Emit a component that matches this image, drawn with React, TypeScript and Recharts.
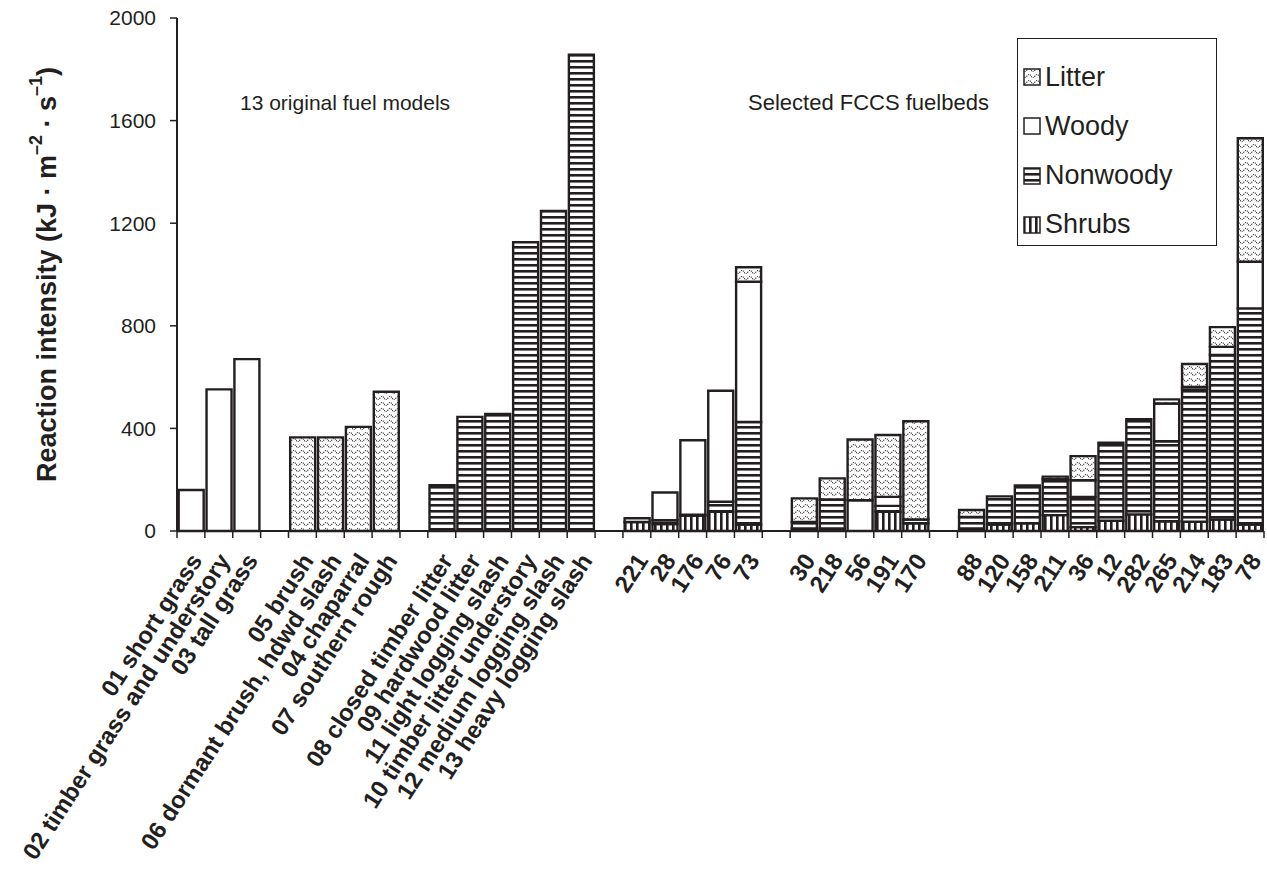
import React from 'react';
import { BarChart, Bar, XAxis, YAxis, Label } from 'recharts';

document.body.style.margin = '0';

const INK = '#231f20';
const FONT = '"Liberation Sans", Arial, Helvetica, sans-serif';

// category order along the x axis ('' = empty spacer between groups)
const categories = [
  '01 short grass', '02 timber grass and understory', '03 tall grass', '',
  '05 brush', '06 dormant brush, hdwd slash', '04 chaparral', '07 southern rough', '',
  '08 closed timber litter', '09 hardwood litter', '11 light logging slash',
  '10 timber litter understory', '12 medium logging slash', '13 heavy logging slash', '',
  '221', '28', '176', '76', '73', '',
  '30', '218', '56', '191', '170', '',
  '88', '120', '158', '211', '36', '12', '282', '265', '214', '183', '78',
];

// reaction intensity by fuel component (kJ m-2 s-1)
const shrubs = [
  0, 0, 0, 0,
  0, 0, 0, 0, 0,
  0, 0, 0, 0, 0, 0, 0,
  35, 27, 60, 75, 25, 0,
  10, 10, 0, 75, 30, 0,
  10, 25, 30, 62, 15, 40, 65, 38, 36, 45, 25,
];
const nonwoody = [
  0, 0, 0, 0,
  0, 0, 0, 0, 0,
  179, 445, 456, 1126, 1248, 1857, 0,
  15, 15, 4, 39, 400, 0,
  25, 113, 0, 23, 15, 0,
  45, 110, 148, 140, 118, 304, 371, 312, 516, 641, 843,
];
const woody = [
  160, 552, 670, 0,
  0, 0, 0, 0, 0,
  0, 0, 0, 0, 0, 0, 0,
  0, 108, 290, 433, 547, 0,
  0, 0, 120, 35, 0, 0,
  0, 0, 0, 0, 65, 0, 0, 147, 10, 32, 182,
];
const litter = [
  0, 0, 0, 0,
  365, 365, 406, 543, 0,
  0, 0, 0, 0, 0, 0, 0,
  0, 0, 0, 0, 56, 0,
  92, 82, 237, 241, 383, 0,
  27, 0, 0, 10, 94, 0, 0, 16, 89, 77, 481,
];

const yTicks = [0, 400, 800, 1200, 1600, 2000];

const legendItems = [
  { label: 'Litter', fill: 'url(#pat-litter)' },
  { label: 'Woody', fill: '#ffffff' },
  { label: 'Nonwoody', fill: 'url(#pat-nonwoody)' },
  { label: 'Shrubs', fill: 'url(#pat-shrubs)' },
];

const data = categories.map((name, i) => ({
  id: `c${i}`,
  name,
  shrubs: shrubs[i],
  nonwoody: nonwoody[i],
  woody: woody[i],
  litter: litter[i],
}));

const PatternDefs = () => (
  <svg width={0} height={0} style={{ position: 'absolute' }}>
    <defs>
      <pattern id="pat-nonwoody" width={6} height={6} patternUnits="userSpaceOnUse">
        <rect width={6} height={6} fill="#ffffff" />
        <rect y={0} width={6} height={2.6} fill={INK} />
      </pattern>
      <pattern id="pat-shrubs" width={6} height={6} patternUnits="userSpaceOnUse">
        <rect width={6} height={6} fill="#ffffff" />
        <rect x={0} width={2.6} height={6} fill={INK} />
      </pattern>
      <pattern id="pat-litter" width={8} height={6} patternUnits="userSpaceOnUse">
        <rect width={8} height={6} fill="#ffffff" />
        <path d="M0 2 Q2 5 4 2 T8 2" fill="none" stroke="#444" strokeWidth={1.1} strokeDasharray="1.2 0.9" />
      </pattern>
    </defs>
  </svg>
);

const FuelTick = (props: any) => {
  const { x, y, payload } = props;
  const i = Number(String(payload.value).slice(1));
  const half = payload.offset || 13.94;
  const name = categories[i];
  const tx = x + 5;
  const ty = y + 25;
  return (
    <g>
      <line x1={x - half} x2={x - half} y1={y} y2={y + 7} stroke={INK} strokeWidth={1.5} />
      {i === categories.length - 1 && (
        <line x1={x + half} x2={x + half} y1={y} y2={y + 7} stroke={INK} strokeWidth={1.5} />
      )}
      {name && (
        <text
          x={tx}
          y={ty}
          transform={`rotate(-57, ${tx}, ${ty})`}
          textAnchor="end"
          dominantBaseline="central"
          fontFamily={FONT}
          fontWeight="bold"
          fontSize={24}
          fill={INK}
        >
          {name}
        </text>
      )}
    </g>
  );
};

const YTitle = (props: any) => {
  const vb = props.viewBox || { x: 0, y: 18, width: 177, height: 513 };
  const cx = 47;
  const cy = vb.y + vb.height / 2;
  return (
    <text
      x={cx}
      y={cy}
      transform={`rotate(-90, ${cx}, ${cy})`}
      textAnchor="middle"
      dominantBaseline="central"
      fontFamily={FONT}
      fontWeight="bold"
      fontSize={27}
      fill={INK}
    >
      Reaction intensity (kJ · m
      <tspan dy={-11} fontSize={18}>–2</tspan>
      <tspan dy={11}> · s</tspan>
      <tspan dy={-11} fontSize={18}>–1</tspan>
      <tspan dy={11}>)</tspan>
    </text>
  );
};

const noteStyle: React.CSSProperties = {
  position: 'absolute',
  fontFamily: FONT,
  fontSize: 21,
  lineHeight: '21px',
  color: INK,
  whiteSpace: 'nowrap',
};

export default function App() {
  return (
    <div style={{ position: 'relative', width: 1267, height: 896, background: '#fff' }}>
      <PatternDefs />
      <BarChart
        width={1267}
        height={896}
        data={data}
        margin={{ top: 18, right: 3, bottom: 0, left: 0 }}
        barCategoryGap="6%"
      >
        <XAxis
          dataKey="id"
          interval={0}
          height={365}
          tickSize={0}
          tickMargin={0}
          tickLine={false}
          axisLine={{ stroke: INK, strokeWidth: 2 }}
          tick={<FuelTick />}
        />
        <YAxis
          width={177}
          domain={[0, 2000]}
          ticks={yTicks}
          interval={0}
          tickSize={7}
          tickMargin={14}
          axisLine={{ stroke: INK, strokeWidth: 2 }}
          tickLine={{ stroke: INK, strokeWidth: 1.5 }}
          tick={{ fontSize: 21, fill: INK, fontFamily: FONT }}
        >
          <Label content={<YTitle />} />
        </YAxis>
        <Bar dataKey="shrubs" stackId="a" fill="url(#pat-shrubs)" stroke={INK} strokeWidth={2.4} isAnimationActive={false} />
        <Bar dataKey="nonwoody" stackId="a" fill="url(#pat-nonwoody)" stroke={INK} strokeWidth={2.4} isAnimationActive={false} />
        <Bar dataKey="woody" stackId="a" fill="#ffffff" stroke={INK} strokeWidth={2.4} isAnimationActive={false} />
        <Bar dataKey="litter" stackId="a" fill="url(#pat-litter)" stroke={INK} strokeWidth={2.4} isAnimationActive={false} />
      </BarChart>

      <div style={{ ...noteStyle, left: 240, top: 92 }}>13 original fuel models</div>
      <div style={{ ...noteStyle, left: 748, top: 92, fontSize: 22 }}>Selected FCCS fuelbeds</div>

      <div
        style={{
          position: 'absolute',
          left: 1017,
          top: 38,
          width: 198,
          height: 206,
          border: `1.5px solid ${INK}`,
          background: '#fff',
          fontFamily: FONT,
          color: INK,
        }}
      >
        {legendItems.map((item, k) => (
          <div
            key={item.label}
            style={{
              position: 'absolute',
              left: 5,
              top: 20 + k * 49.3,
              height: 36,
              display: 'flex',
              alignItems: 'center',
              fontSize: 27,
              whiteSpace: 'nowrap',
            }}
          >
            <svg width={18} height={18} style={{ marginRight: 4 }}>
              <rect x={1} y={1} width={16} height={16} fill={item.fill} stroke={INK} strokeWidth={1.5} />
            </svg>
            {item.label}
          </div>
        ))}
      </div>
    </div>
  );
}
